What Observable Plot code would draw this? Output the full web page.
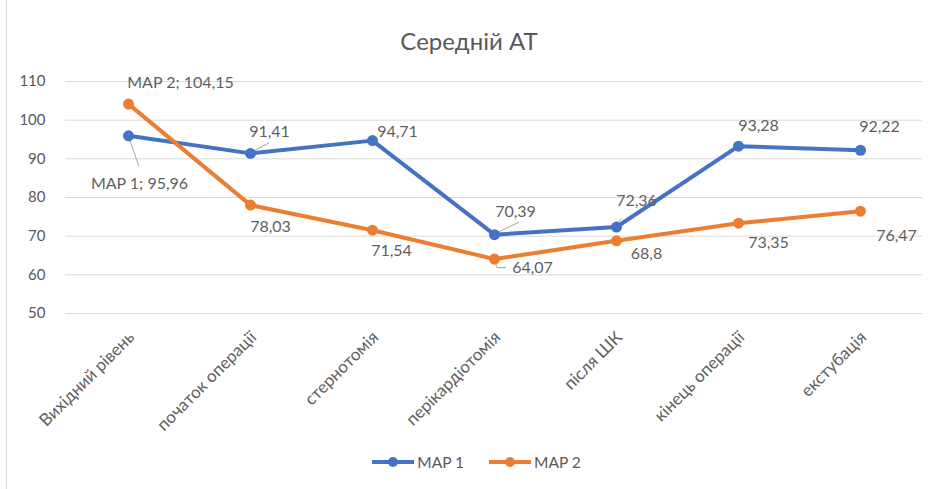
<!DOCTYPE html>
<html>
<head>
<meta charset="utf-8">
<script src="https://cdn.jsdelivr.net/npm/d3@7"></script>
<script src="https://cdn.jsdelivr.net/npm/@observablehq/plot@0.6"></script>
<style>
  html, body { margin: 0; padding: 0; background: #fff; }
  #wrap { position: relative; width: 938px; height: 489px; overflow: hidden; font-family: Lato, "Open Sans", sans-serif; color: #595959; }
  #title { position: absolute; top: 26px; left: 0; width: 938px; text-align: center; font-size: 24px; }
  #legend { position: absolute; top: 453px; left: 0; width: 938px; display: flex; justify-content: center; gap: 24px; font-size: 15.5px; padding-left: 14px; box-sizing: border-box; }
  .lg { display: flex; align-items: center; gap: 2px; }
  #chart { position: absolute; top: 0; left: 0; }
  #frame { position: absolute; left: 6px; top: 0; width: 1px; height: 489px; background: #d9d9d9; }
</style>
</head>
<body>
<div id="wrap">
  <div id="frame"></div>
  <div id="chart"></div>
  <div id="title">Середній АТ</div>
  <div id="legend"></div>
</div>
<script>
const categories = ["Вихідний рівень", "початок операції", "стернотомія", "перікардіотомія", "після ШК", "кінець операції", "екстубація"];
const map1 = [95.96, 91.41, 94.71, 70.39, 72.36, 93.28, 92.22];
const map2 = [104.15, 78.03, 71.54, 64.07, 68.8, 73.35, 76.47];
const seriesNames = ["MAP 1", "MAP 2"];
const seriesColors = ["#4472C4", "#ED7D31"];
const yTicks = [50, 60, 70, 80, 90, 100, 110];

// label text and placement (pixel offsets from each point)
const labels1 = ["MAP 1; 95,96", "91,41", "94,71", "70,39", "72,36", "93,28", "92,22"];
const labels2 = ["MAP 2; 104,15", "78,03", "71,54", "64,07", "68,8", "73,35", "76,47"];
const off1 = [[11, 48], [19, -22], [25, -9], [21, -23], [20, -26], [20, -20], [19, -23]];
const off2 = [[52, -21], [20, 22], [19, 21], [38, 9], [30, 13], [30, 20], [36, 25]];
// leader lines: series index, point index, path of pixel offsets
const leaders = [
  [0, 0, [[0, 0], [11, 31]]],
  [0, 1, [[0, 0], [19, -10]]],
  [0, 3, [[0, 0], [25, -12]]],
  [0, 4, [[0, 0], [5, -8]]],
  [1, 3, [[0, 0], [3, 9], [12, 9]]]
];

const data = [];
categories.forEach((c, i) => {
  data.push({cat: c, value: map1[i], series: seriesNames[0], label: labels1[i], dx: off1[i][0], dy: off1[i][1]});
});
categories.forEach((c, i) => {
  data.push({cat: c, value: map2[i], series: seriesNames[1], label: labels2[i], dx: off2[i][0], dy: off2[i][1]});
});

const font = "Lato, 'Open Sans', sans-serif";
const plot = Plot.plot({
  width: 938,
  height: 489,
  marginTop: 81,
  marginBottom: 176,
  marginLeft: 65,
  marginRight: 16,
  style: {fontFamily: font, fontSize: "14px", color: "#595959", background: "transparent"},
  x: {type: "point", domain: categories, padding: 0.5, label: null},
  y: {domain: [50, 110], label: null},
  color: {domain: seriesNames, range: seriesColors},
  marks: [
    Plot.ruleY(yTicks, {stroke: "#d9d9d9", strokeWidth: 1}),
    Plot.axisY({ticks: yTicks, tickSize: 0, tickPadding: 20, fontSize: 15, label: null, tickFormat: d => String(d)}),
    Plot.axisX({tickSize: 0, tickPadding: 21, tickRotate: -45, fontSize: 17, label: null, dx: 3, fill: "#606060"}),
    Plot.line(data, {x: "cat", y: "value", z: "series", stroke: "series", strokeWidth: 4, strokeLinejoin: "round", strokeLinecap: "round"}),
    Plot.dot(data, {x: "cat", y: "value", fill: "series", r: 5.5, stroke: null}),
    ...data.map(d => Plot.text([d], {x: "cat", y: "value", text: "label", dx: d.dx, dy: d.dy, fill: "#5f5f5f", fontSize: 16}))
  ]
});
document.getElementById("chart").appendChild(plot);

// leader lines, positioned with the plot's own scales
const sx = plot.scale("x"), sy = plot.scale("y");
const svg = d3.select(plot);
const series = [map1, map2];
const xOff = (sx.bandwidth || 0) / 2;
leaders.forEach(([s, i, pts]) => {
  const px = sx.apply(categories[i]) + xOff;
  const py = sy.apply(series[s][i]);
  svg.append("path")
    .attr("d", d3.line()(pts.map(([a, b]) => [px + a, py + b])))
    .attr("fill", "none")
    .attr("stroke", "#a6a6a6")
    .attr("stroke-width", 1);
});
// bring dots above leaders
svg.selectAll("g[aria-label=dot]").raise();

// legend
const lg = d3.select("#legend");
seriesNames.forEach((n, k) => {
  const item = lg.append("div").attr("class", "lg");
  const s = item.append("svg").attr("width", 44).attr("height", 12);
  s.append("line").attr("x1", 1).attr("x2", 43).attr("y1", 6).attr("y2", 6).attr("stroke", seriesColors[k]).attr("stroke-width", 4);
  s.append("circle").attr("cx", 22).attr("cy", 6).attr("r", 5).attr("fill", seriesColors[k]);
  item.append("span").text(n);
});
</script>
</body>
</html>
